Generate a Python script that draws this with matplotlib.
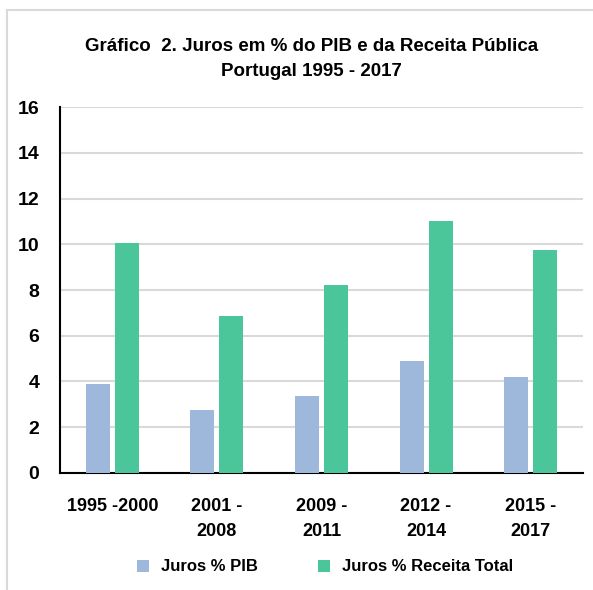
import matplotlib
matplotlib.use("Agg")
import matplotlib.pyplot as plt
import numpy as np
from matplotlib.lines import Line2D

# dados
periodos = ["1995 -2000", "2001 -\n2008", "2009 -\n2011", "2012 -\n2014", "2015 -\n2017"]
juros_pib = [3.9, 2.75, 3.36, 4.88, 4.2]
juros_receita = [10.05, 6.85, 8.22, 11.02, 9.75]
yticks = [0, 2, 4, 6, 8, 10, 12, 14, 16]

cor_pib = "#9db8db"
cor_receita = "#4bc69b"

plt.rcParams['font.family'] = ['Liberation Sans', 'DejaVu Sans']
plt.rcParams['font.weight'] = 'bold'

fig = plt.figure(figsize=(5.93, 5.90), dpi=100)
ax = fig.add_axes([0.1012, 0.1988, 0.8819, 0.6193])

x = np.arange(len(periodos))
largura = 0.23
desloc = 0.139
ax.bar(x - desloc, juros_pib, largura, color=cor_pib, label="Juros % PIB", zorder=3)
ax.bar(x + desloc, juros_receita, largura, color=cor_receita, label="Juros % Receita Total", zorder=3)

ax.set_xlim(-0.5, len(periodos) - 0.5)
ax.set_ylim(0, 16)
ax.set_yticks(yticks)
ax.set_yticklabels([str(v) for v in yticks], fontsize=14, fontweight='bold')
ax.set_xticks(x)
ax.set_xticklabels(periodos, fontsize=13, fontweight='bold', linespacing=1.6)
ax.tick_params(axis='both', length=0)
ax.tick_params(axis='y', pad=15)
ax.tick_params(axis='x', pad=18)

ax.grid(axis='y', color='#d9d9d9', linewidth=1.5, zorder=0)
for s in ['top', 'right']:
    ax.spines[s].set_visible(False)
for s in ['left', 'bottom']:
    ax.spines[s].set_color('black')
    ax.spines[s].set_linewidth(1.5)

fig.text(0.526, 0.922, "Gráfico  2. Juros em % do PIB e da Receita Pública",
         ha='center', va='center', fontsize=13.5, fontweight='bold')
fig.text(0.526, 0.878, "Portugal 1995 - 2017",
         ha='center', va='center', fontsize=13.5, fontweight='bold')

leg = fig.legend(loc='center', bbox_to_anchor=(0.548, 0.039), ncol=2, frameon=False,
                 fontsize=12, handlelength=0.75, handleheight=0.75, columnspacing=3.6,
                 handletextpad=0.7)

# moldura cinza (esquerda e topo)
fig.add_artist(Line2D([0.012, 0.012], [0, 0.983], color='#d9d9d9', linewidth=1.5,
                      transform=fig.transFigure))
fig.add_artist(Line2D([0.012, 1.0], [0.983, 0.983], color='#d9d9d9', linewidth=1.5,
                      transform=fig.transFigure))

fig.savefig("out.png", dpi=100)
